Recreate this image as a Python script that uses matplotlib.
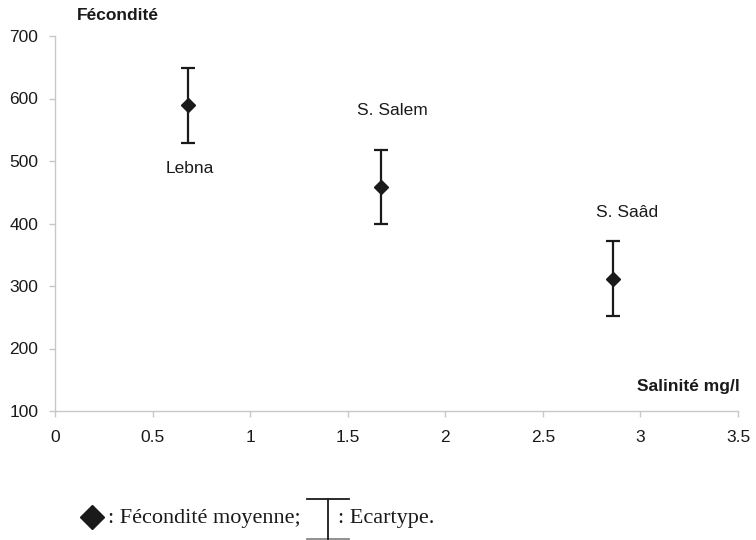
import matplotlib
matplotlib.use("Agg")
import matplotlib.pyplot as plt

# Mean fecundity and standard deviation per site, against salinity
sites = ["Lebna", "S. Salem", "S. Saâd"]
salinity = [0.68, 1.67, 2.86]
fecundity = [589, 458, 312]
std_dev = [60, 59, 60]

x_ticks = [0, 0.5, 1, 1.5, 2, 2.5, 3, 3.5]
x_tick_labels = ["0", "0.5", "1", "1.5", "2", "2.5", "3", "3.5"]
y_ticks = [100, 200, 300, 400, 500, 600, 700]

sans = ["Liberation Sans", "DejaVu Sans"]
serif = ["Liberation Serif", "DejaVu Serif"]
ink = "#1a1a1a"
axis_grey = "#c8c8c8"
label_size = 12.5

fig = plt.figure(figsize=(7.56, 5.4), dpi=100)
ax = fig.add_axes([55 / 756, 1 - 411 / 540, 683 / 756, 375 / 540])

ax.errorbar(salinity, fecundity, yerr=std_dev, fmt="D", color=ink,
            markersize=7.5, elinewidth=1.6, capsize=5, capthick=1.6,
            ecolor=ink, zorder=3)

# Site labels, offset from each point in data units
label_offsets = [(0.01, -101), (0.057, 123), (0.07, 106)]
for name, x, y, (dx, dy) in zip(sites, salinity, fecundity, label_offsets):
    ax.text(x + dx, y + dy, name, ha="center", va="center",
            fontsize=label_size, family=sans, color=ink)

ax.set_xlim(0, 3.5)
ax.set_ylim(100, 700)
ax.set_xticks(x_ticks)
ax.set_xticklabels(x_tick_labels)
ax.set_yticks(y_ticks)

for side in ("top", "right"):
    ax.spines[side].set_visible(False)
for side in ("left", "bottom"):
    ax.spines[side].set_color(axis_grey)
    ax.spines[side].set_linewidth(1.0)

ax.tick_params(axis="both", colors=axis_grey, labelcolor=ink,
               labelsize=label_size, length=4, width=1)
for lbl in ax.get_xticklabels() + ax.get_yticklabels():
    lbl.set_family(sans)
ax.tick_params(axis="x", pad=10)
ax.tick_params(axis="y", pad=8)

# Axis titles placed inside the frame corners
fig.text(118 / 756, 1 - 15 / 540, "Fécondité", ha="center", va="center",
         fontsize=label_size, fontweight="bold", family=sans, color=ink)
fig.text(740 / 756, 1 - 386 / 540, "Salinité mg/l", ha="right", va="center",
         fontsize=label_size, fontweight="bold", family=sans, color=ink)

# Key below the chart
fig.lines.append(plt.Line2D([92 / 756], [1 - 517 / 540], marker="D",
                            markersize=12, color=ink,
                            transform=fig.transFigure))
fig.text(108 / 756, 1 - 519 / 540, ": Fécondité moyenne;", ha="left",
         va="center", fontsize=16, family=serif, color=ink)
cap_x = 328 / 756
cap_half = 21 / 756
fig.lines.append(plt.Line2D([cap_x - cap_half, cap_x + cap_half],
                            [1 - 499 / 540, 1 - 499 / 540], color=ink,
                            linewidth=1.3, transform=fig.transFigure))
fig.lines.append(plt.Line2D([cap_x - cap_half, cap_x + cap_half],
                            [1 - 539 / 540, 1 - 539 / 540], color="#888888",
                            linewidth=1.3, transform=fig.transFigure))
fig.lines.append(plt.Line2D([cap_x, cap_x], [1 - 499 / 540, 1 - 539 / 540],
                            color=ink, linewidth=1.3,
                            transform=fig.transFigure))
fig.text(338 / 756, 1 - 519 / 540, ": Ecartype.", ha="left", va="center",
         fontsize=16, family=serif, color=ink)

fig.savefig("out.png", dpi=100)
